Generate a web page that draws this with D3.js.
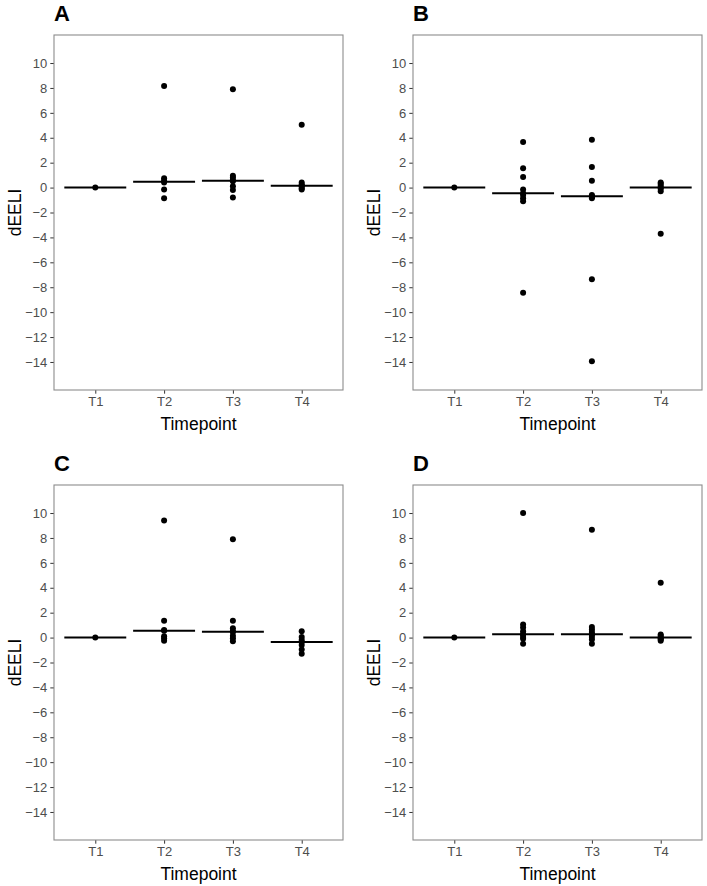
<!DOCTYPE html>
<html>
<head>
<meta charset="utf-8">
<script src="https://cdn.jsdelivr.net/npm/d3@7"></script>
<style>
  html, body { margin: 0; padding: 0; background: #fff; }
  svg { display: block; font-family: "Liberation Sans", Arial, sans-serif; }
</style>
</head>
<body>
<svg id="chart" width="707" height="886"></svg>
<script>
// ---- Data ----
const timepoints = ["T1", "T2", "T3", "T4"];
const yTicks = [10, 8, 6, 4, 2, 0, -2, -4, -6, -8, -10, -12, -14];
const panelLabels = ["A", "B", "C", "D"];

const panelA = [
  [0],
  [8.15, 0.75, 0.55, 0.4, -0.15, -0.85],
  [7.9, 0.95, 0.8, 0.6, 0.5, 0.1, -0.2, -0.8],
  [5.05, 0.4, 0.25, 0.15, 0.1, -0.05, -0.15]
];
const panelB = [
  [0],
  [3.65, 1.55, 0.85, -0.15, -0.45, -0.6, -0.85, -1.1, -8.45],
  [3.85, 1.65, 0.55, -0.6, -0.7, -0.75, -0.85, -7.35, -13.95],
  [0.4, 0.3, 0.15, 0.0, -0.1, -0.3, -3.7]
];
const panelC = [
  [0],
  [9.4, 1.35, 0.6, 0.55, 0.1, -0.05, -0.25],
  [7.9, 1.35, 0.75, 0.5, 0.45, 0.15, -0.05, -0.3],
  [0.5, 0.05, -0.2, -0.35, -0.6, -0.95, -1.3]
];
const panelD = [
  [0],
  [10.0, 1.05, 0.8, 0.5, 0.27, 0.25, 0.05, -0.1, -0.5],
  [8.65, 0.85, 0.65, 0.45, 0.27, 0.25, 0.05, -0.15, -0.5],
  [4.4, 0.25, 0.15, 0.0, -0.05, -0.15, -0.25]
];
const panels = [panelA, panelB, panelC, panelD];

const yDomain = [-16.25, 12.25];

// ---- Layout ----
const svg = d3.select("#chart");
const panelW = 289, panelH = 355;
const origins = [[54, 35], [413, 35], [54, 485], [413, 485]];

panels.forEach((data, pi) => {
  const [ox, oy] = origins[pi];
  const g = svg.append("g").attr("transform", `translate(${ox},${oy})`);

  // discrete expansion of 0.6 units on each side
  const xc = d3.scalePoint().domain(timepoints).range([panelW * 0.6 / 4.2, panelW * 3.6 / 4.2]);
  const step = panelW / 4.2;
  const y = d3.scaleLinear().domain(yDomain).range([panelH, 0]);

  // y axis
  const yAxis = d3.axisLeft(y).tickValues(yTicks).tickSize(3.7).tickPadding(3);
  const ya = g.append("g").call(yAxis);
  ya.select(".domain").remove();
  ya.selectAll(".tick line").attr("stroke", "#333333").attr("stroke-width", 1);
  ya.selectAll(".tick text").attr("fill", "#4D4D4D").style("font-size", "13px")
    .style("font-family", "'Liberation Sans', Arial, sans-serif");

  // x axis
  const xAxis = d3.axisBottom(xc).tickSize(3.7).tickPadding(3);
  const xa = g.append("g").attr("transform", `translate(0,${panelH})`).call(xAxis);
  xa.select(".domain").remove();
  xa.selectAll(".tick line").attr("stroke", "#333333").attr("stroke-width", 1);
  xa.selectAll(".tick text").attr("fill", "#4D4D4D").style("font-size", "13px")
    .style("font-family", "'Liberation Sans', Arial, sans-serif");

  // panel border
  g.append("rect").attr("x", 0).attr("y", 0).attr("width", panelW).attr("height", panelH)
    .attr("fill", "none").attr("stroke", "#8C8C8C").attr("stroke-width", 1.1);

  // median crossbars
  data.forEach((vals, i) => {
    const m = d3.median(vals);
    const cx = xc(timepoints[i]);
    g.append("line")
      .attr("x1", cx - 0.45 * step).attr("x2", cx + 0.45 * step)
      .attr("y1", y(m)).attr("y2", y(m))
      .attr("stroke", "#000").attr("stroke-width", 2);
  });

  // points
  data.forEach((vals, i) => {
    const cx = xc(timepoints[i]);
    g.selectAll(null).data(vals).enter().append("circle")
      .attr("cx", cx).attr("cy", d => y(d)).attr("r", 3)
      .attr("fill", "#000");
  });

  // axis titles
  g.append("text").attr("x", panelW / 2).attr("y", panelH + 40)
    .attr("text-anchor", "middle").attr("fill", "#000")
    .style("font-size", "17.5px").text("Timepoint");
  g.append("text")
    .attr("transform", `translate(${-33},${panelH / 2}) rotate(-90)`)
    .attr("text-anchor", "middle").attr("fill", "#000")
    .style("font-size", "17.5px").text("dEELI");

  // panel label
  g.append("text").attr("x", 0).attr("y", -14)
    .attr("fill", "#000").style("font-size", "22px").style("font-weight", "bold")
    .text(panelLabels[pi]);
});
</script>
</body>
</html>
